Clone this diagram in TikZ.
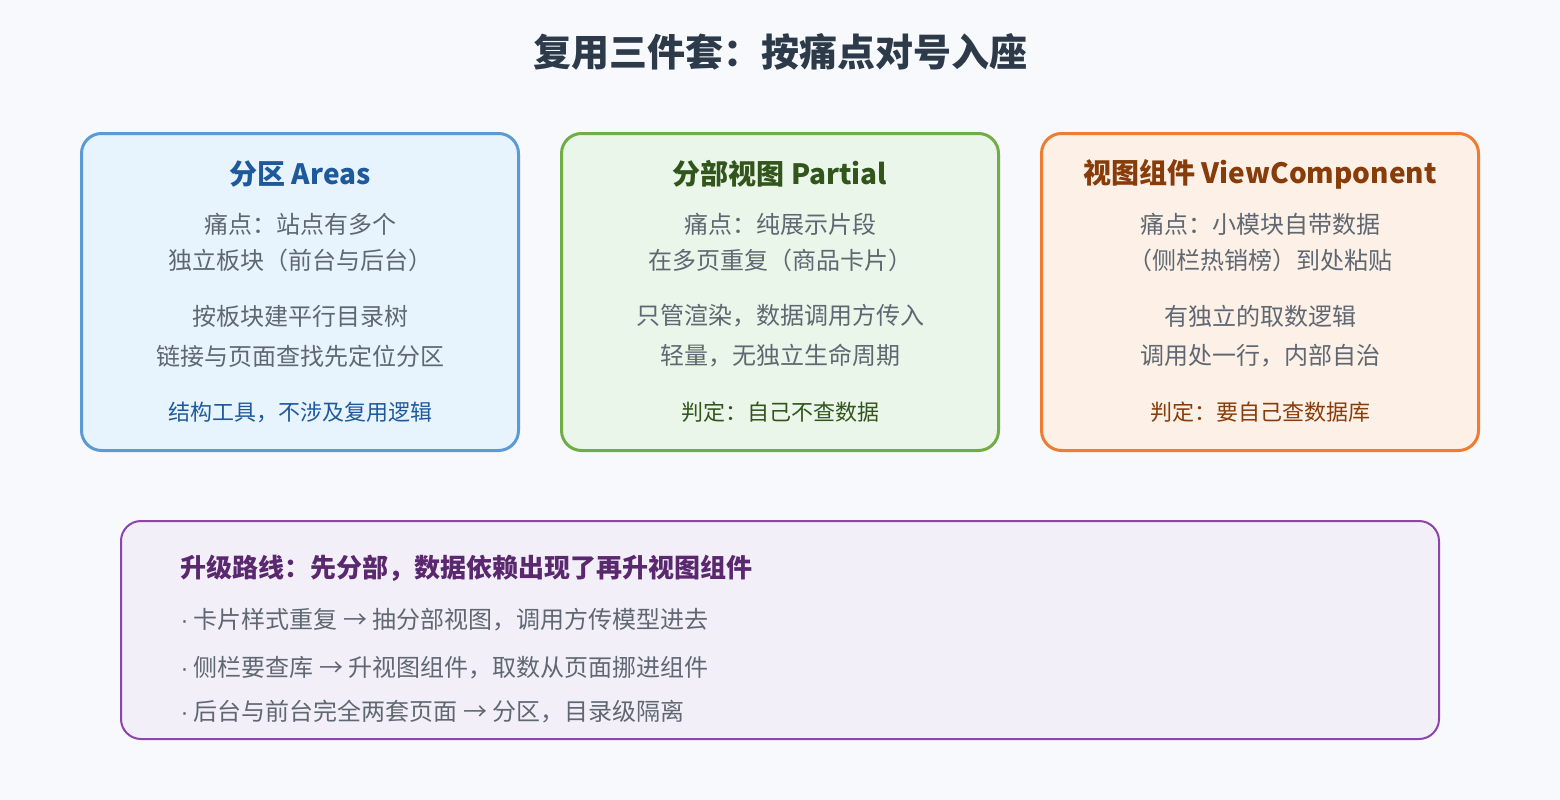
\documentclass[tikz,border=0pt]{standalone}
\usepackage{fontspec}
\setmainfont{Noto Sans CJK SC}
\newfontfamily\dotfont{Liberation Sans}
\usetikzlibrary{positioning}

\definecolor{pagebg}{RGB}{248,249,252}
\definecolor{titleink}{RGB}{44,58,74}
\definecolor{bodyink}{RGB}{95,104,114}
\definecolor{arealine}{RGB}{91,155,213}
\definecolor{areafill}{RGB}{232,244,253}
\definecolor{areaink}{RGB}{30,90,155}
\definecolor{partline}{RGB}{112,173,71}
\definecolor{partfill}{RGB}{234,246,234}
\definecolor{partink}{RGB}{50,85,28}
\definecolor{vcline}{RGB}{237,125,49}
\definecolor{vcfill}{RGB}{253,240,230}
\definecolor{vcink}{RGB}{135,60,10}
\definecolor{routeline}{RGB}{142,68,173}
\definecolor{routefill}{RGB}{243,239,249}
\definecolor{routeink}{RGB}{90,40,110}

\newcommand{\bdot}{{\dotfont ·} }

\tikzset{
  card/.style={draw, line width=3pt, rounded corners=20pt,
    minimum width=437pt, minimum height=317pt, inner sep=0pt},
  cardtitle/.style={font=\fontsize{28}{33}\selectfont\bfseries},
  pain/.style={text=bodyink, font=\fontsize{24}{29}\selectfont},
  verdict/.style={font=\fontsize{22}{27}\selectfont},
  bullet/.style={anchor=west, text=bodyink, font=\fontsize{24}{29}\selectfont}
}

\begin{document}
\begin{tikzpicture}[x=1pt,y=-1pt]
\useasboundingbox[fill=pagebg] (0,0) rectangle (1560,800);

\node[text=titleink, font=\fontsize{38}{45}\selectfont\bfseries] (title) at (780,52) {复用三件套：按痛点对号入座};

% three cards
\node[card, draw=arealine, fill=areafill] (areas) at (300,292) {};
\node[card, draw=partline, fill=partfill] (partial) at (780,292) {};
\node[card, draw=vcline, fill=vcfill] (vc) at (1260,292) {};

\node[cardtitle, text=areaink] (areashead) at (300,174) {分区 Areas};
\node[pain] (areasp1) at (300,224) {痛点：站点有多个};
\node[pain] (areasp2) at (300,260) {独立板块（前台与后台）};
\node[pain] (areasd1) at (300,316) {按板块建平行目录树};
\node[pain] (areasd2) at (300,356) {链接与页面查找先定位分区};
\node[verdict, text=areaink] (areasv) at (300,412) {结构工具，不涉及复用逻辑};

\node[cardtitle, text=partink] (partialhead) at (780,174) {分部视图 Partial};
\node[pain] (partialp1) at (780,224) {痛点：纯展示片段};
\node[pain] (partialp2) at (780,260) {在多页重复（商品卡片）};
\node[pain] (partiald1) at (780,316) {只管渲染，数据调用方传入};
\node[pain] (partiald2) at (780,356) {轻量，无独立生命周期};
\node[verdict, text=partink] (partialv) at (780,412) {判定：自己不查数据};

\node[cardtitle, text=vcink] (vchead) at (1260,174) {视图组件 ViewComponent};
\node[pain] (vcp1) at (1260,224) {痛点：小模块自带数据};
\node[pain] (vcp2) at (1260,260) {（侧栏热销榜）到处粘贴};
\node[pain] (vcd1) at (1260,316) {有独立的取数逻辑};
\node[pain] (vcd2) at (1260,356) {调用处一行，内部自治};
\node[verdict, text=vcink] (vcv) at (1260,412) {判定：要自己查数据库};

% upgrade route
\node[draw=routeline, fill=routefill, line width=2pt, rounded corners=20pt,
  minimum width=1318pt, minimum height=218pt, inner sep=0pt] (route) at (780,630) {};
\node[anchor=west, text=routeink, font=\fontsize{26}{31}\selectfont\bfseries] (routehead) at (177,568) {升级路线：先分部，数据依赖出现了再升视图组件};
\node[bullet] (step1) at (177,620) {\bdot 卡片样式重复 → 抽分部视图，调用方传模型进去};
\node[bullet] (step2) at (177,668) {\bdot 侧栏要查库 → 升视图组件，取数从页面挪进组件};
\node[bullet] (step3) at (177,712) {\bdot 后台与前台完全两套页面 → 分区，目录级隔离};
\end{tikzpicture}
\end{document}
